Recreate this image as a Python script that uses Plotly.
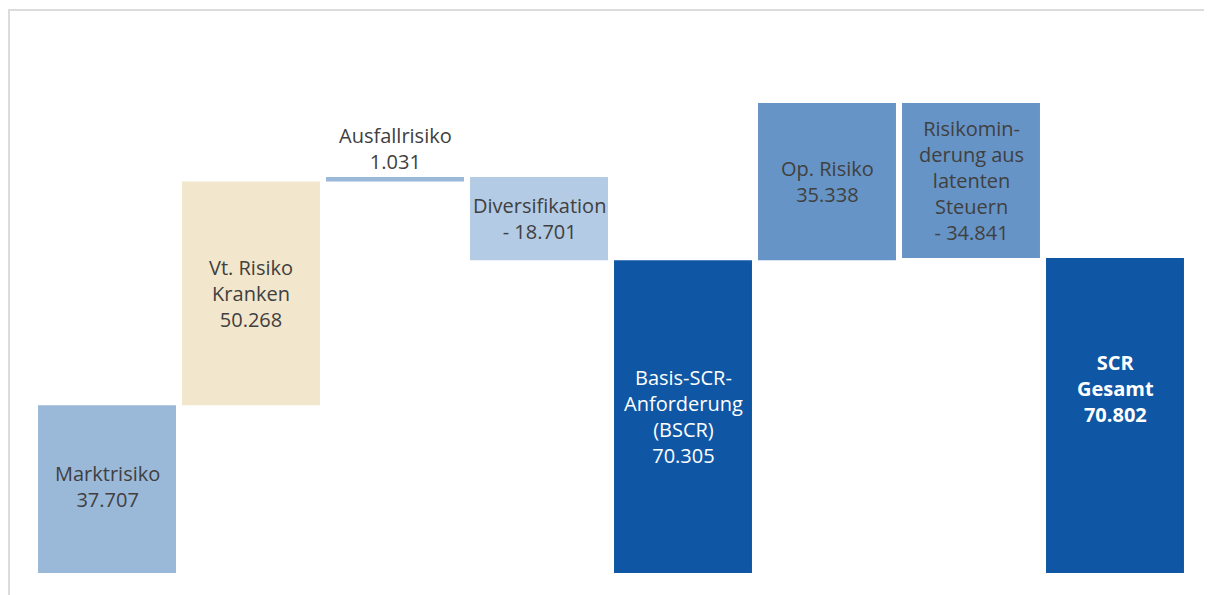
import plotly.graph_objects as go

categories = ["Marktrisiko", "Vt. Risiko Kranken", "Ausfallrisiko", "Diversifikation",
              "BSCR", "Op. Risiko", "Risikominderung", "SCR Gesamt"]
label_names = ["Marktrisiko", "Vt. Risiko<br>Kranken", "Ausfallrisiko", "Diversifikation",
               "Basis-SCR-<br>Anforderung<br>(BSCR)", "Op. Risiko",
               "Risikomin-<br>derung aus<br>latenten<br>Steuern", "<b>SCR<br>Gesamt</b>"]
values = [37707, 50268, 1031, -18701, 70305, 35338, -34841, 70802]
kinds = ["relative", "relative", "relative", "relative", "total", "relative", "relative", "total"]
colors = ["#9ab8d8", "#f2e6cc", "#9ab8d8", "#b3cbe4", "#0f57a5", "#6694c6", "#6694c6", "#0f57a5"]
text_colors = ["#404040", "#404040", "#404040", "#404040", "#ffffff", "#404040", "#404040", "#ffffff"]


def fmt(v):
    s = f"{abs(v):,}".replace(",", ".")
    return ("- " + s) if v < 0 else s


bases, heights = [], []
running = 0
for v, k in zip(values, kinds):
    if k == "total":
        bases.append(0)
        heights.append(v)
        running = v
    else:
        bases.append(running)
        heights.append(v)
        running += v

W, H = 1212, 595
ml, mr, mt, mb = 27, 33, 4, 30
px_per_unit = 4.45 / 1000
ymax = (H - mt - mb) / px_per_unit

fig = go.Figure(go.Bar(
    x=categories, y=heights, base=bases,
    marker=dict(color=colors, line=dict(width=0)),
    hoverinfo="skip",
))

FONT = "Open Sans, Noto Sans, sans-serif"
FS = 20
for i, (c, name, v) in enumerate(zip(categories, label_names, values)):
    val = fmt(v)
    if i == 7:
        val = f"<b>{val}</b>"
    text = f"{name}<br>{val}"
    mid = bases[i] + heights[i] / 2
    if i == 2:
        fig.add_annotation(x=c, y=max(bases[i], bases[i] + heights[i]), text=text,
                           showarrow=False, yanchor="bottom", yshift=0,
                           font=dict(family=FONT, size=FS, color=text_colors[i]))
    else:
        fig.add_annotation(x=c, y=mid, text=text, showarrow=False, yanchor="middle",
                           yshift=27 if i == 7 else (3 if i == 0 else 0),
                           font=dict(family=FONT, size=FS, color=text_colors[i]))

pw = W - ml - mr
ph = H - mt - mb
fig.add_shape(type="line", xref="paper", yref="paper",
              x0=(0 - ml) / pw, x1=(W - ml) / pw, y0=1 + 2 / ph, y1=1 + 2 / ph,
              line=dict(color="#dcdcdc", width=2))
fig.add_shape(type="line", xref="paper", yref="paper",
              x0=(0 - ml) / pw + 1 / pw, x1=(0 - ml) / pw + 1 / pw, y0=1 + 2 / ph, y1=-mb / ph,
              line=dict(color="#dcdcdc", width=2))

fig.update_layout(
    width=W, height=H,
    margin=dict(l=ml, r=mr, t=mt, b=mb),
    plot_bgcolor="white", paper_bgcolor="white",
    bargap=0.042, showlegend=False,
    xaxis=dict(visible=False, range=[-0.5, 7.5]),
    yaxis=dict(visible=False, range=[0, ymax]),
)

fig.write_html("out.html")
